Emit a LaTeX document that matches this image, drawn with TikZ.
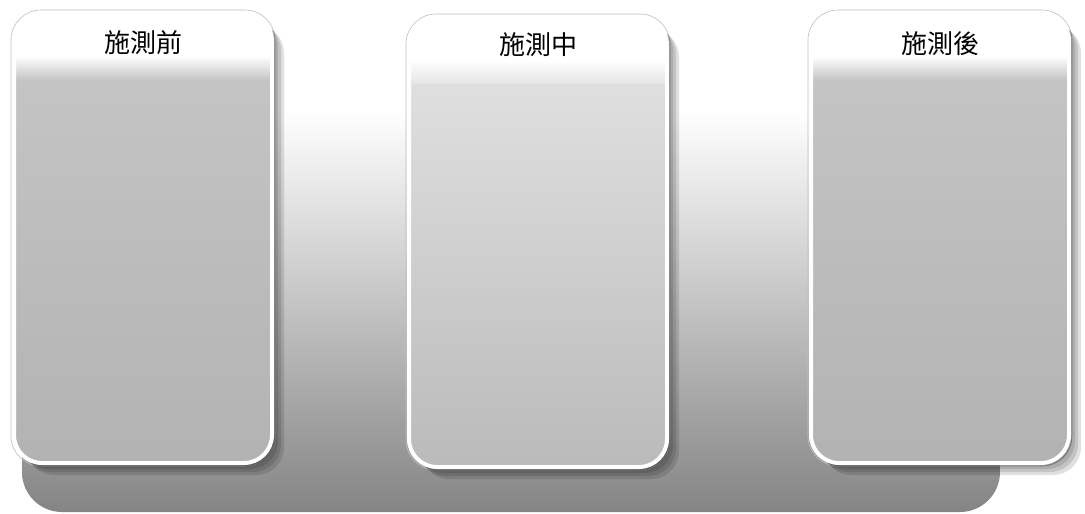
\documentclass[tikz,border=0pt]{standalone}
\usepackage{fontspec}
\newfontfamily\cjk{Noto Sans CJK TC}
\usetikzlibrary{calc}
\begin{document}
\begin{tikzpicture}[x=1pt,y=-1pt,
  panel/.style n args={2}{rounded corners=28pt, draw=white, line width=4pt,
    minimum width=258pt, minimum height=450pt, inner sep=0pt,
    path picture={
      \shade[sharp corners,top color=#1,bottom color=#2]
        (path picture bounding box.north west) rectangle (path picture bounding box.south east);
      \fill[sharp corners,white] (path picture bounding box.north west)
        rectangle ($(path picture bounding box.north east)+(0,44)$);
      \shade[sharp corners,top color=white,bottom color=#1]
        ($(path picture bounding box.north west)+(0,43)$)
        rectangle ($(path picture bounding box.north east)+(0,66)$);
    }},
  ttl/.style={font=\cjk\fontsize{26}{30}\selectfont, text=black, inner sep=0pt},
  shadowbox/.style={fill=black, opacity=0.12, rounded corners=28pt},
  haloline/.style={draw=black!25, line width=0.6pt, rounded corners=30pt}
]
\useasboundingbox (0,0) rectangle (1085,514);
\fill[white] (0,0) rectangle (1085,514);
% background band
\shade[top color=white, middle color=black!14, bottom color=black!48, rounded corners=40pt]
  (22,110) rectangle (1000,512);
% soft shadows of the panels
\foreach \cx/\cy in {143/238, 538/242, 940/238}{
  \draw[haloline] ($(\cx,\cy)+(-132,-228)$) rectangle ($(\cx,\cy)+(132,228)$);
  \foreach \d in {3,6,9,12}{
    \fill[shadowbox] ($(\cx,\cy)+(-129+\d,-225+\d)$) rectangle ($(\cx,\cy)+(129+\d,225+\d)$);
  }
}
% panels
\node[panel={black!22}{black!30}] (b1) at (143,238) {};
\node[panel={black!10}{black!27}] (b2) at (538,242) {};
\node[panel={black!22}{black!30}] (b3) at (940,238) {};
% titles
\node[ttl] (t1) at ($(b1.north)+(0,32)$) {施測前};
\node[ttl] (t2) at ($(b2.north)+(0,30)$) {施測中};
\node[ttl] (t3) at ($(b3.north)+(0,33)$) {施測後};
\end{tikzpicture}
\end{document}
